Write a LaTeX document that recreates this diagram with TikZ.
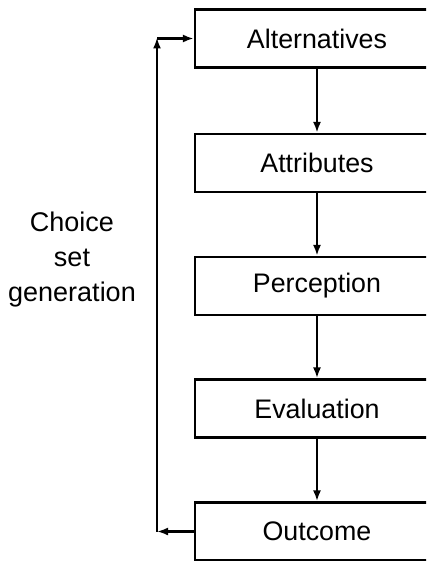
\documentclass[tikz,border=0pt]{standalone}
\usepackage{fontspec}
\setmainfont{Liberation Sans}
\usetikzlibrary{arrows.meta}
\begin{document}
\begin{tikzpicture}[x=1pt,y=-1pt,
  stagebox/.style={draw, line width=2.2pt, minimum width=244pt, minimum height=58pt,
    inner sep=0pt, font=\fontsize{26.8}{32}\selectfont},
  flow/.style={line width=2.2pt, -{Latex[length=11pt,width=8pt]}},
  sidelabel/.style={align=center, font=\fontsize{27}{35}\selectfont}]
  \useasboundingbox (0,0) rectangle (426,561);
  \clip (0,0) rectangle (426,561);
  \fill[white] (0,0) rectangle (426,561);

  % stages of the choice process
  \node[stagebox] (alt)  at (317,38.5)  {Alternatives};
  \node[stagebox] (attr) at (317,163)   {Attributes};
  \node[stagebox] (perc) at (317,286)   {Perception};
  \node[stagebox] (eval) at (317,408.5) {Evaluation};
  \node[stagebox] (out)  at (317,531.5) {Outcome};

  % downward flow between stages
  \draw[flow] (alt)  -- (attr);
  \draw[flow] (attr) -- (perc);
  \draw[flow] (perc) -- (eval);
  \draw[flow] (eval) -- (out);

  % feedback loop back to the alternatives
  \coordinate (lb) at (157,531.5);
  \coordinate (lt) at (157,38.5);
  \draw[flow] (out.west) -- (lb);
  \draw[flow, shorten >=-1pt] (lb) -- (lt);
  \draw[flow] (lt) -- (alt.west);

  \node[sidelabel] (csg) at (72,260) {Choice\\set\\generation};
\end{tikzpicture}
\end{document}
